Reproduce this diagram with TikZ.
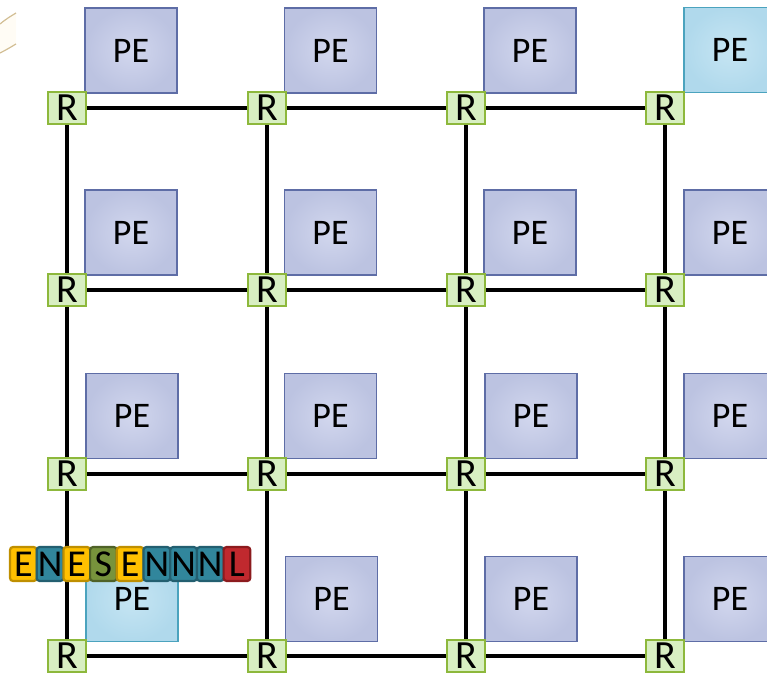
\documentclass[tikz,border=0pt]{standalone}
\usepackage{fontspec}
\setmainfont{Carlito}
\definecolor{pefill}{HTML}{C3C9E3}
\definecolor{peinner}{HTML}{D2D7EE}
\definecolor{peouter}{HTML}{BCC3E1}
\definecolor{peedge}{HTML}{5E6DA6}
\definecolor{bluefill}{HTML}{B9DEEF}
\definecolor{blueinner}{HTML}{C6E5F3}
\definecolor{blueouter}{HTML}{B0D9EC}
\definecolor{blueedge}{HTML}{4BA3BE}
\definecolor{rfill}{HTML}{D8EFC2}
\definecolor{redge}{HTML}{8DB83C}
\definecolor{efill}{HTML}{FFC000}
\definecolor{eedge}{HTML}{BF8F00}
\definecolor{nfill}{HTML}{31869C}
\definecolor{nedge}{HTML}{235F70}
\definecolor{sfill}{HTML}{77933C}
\definecolor{sedge}{HTML}{4F6228}
\definecolor{lfill}{HTML}{C0292E}
\definecolor{ledge}{HTML}{8C1B1E}
\definecolor{curlfill}{HTML}{FFFCF5}
\definecolor{curledge}{HTML}{D2BE94}
\begin{document}
\begin{tikzpicture}[x=1pt,y=-1pt,
  pebox/.style={draw=peedge, inner color=peinner, outer color=peouter, line width=1.5pt, minimum width=92pt, minimum height=85pt, inner sep=0pt, font=\fontsize{36}{40}\selectfont},
  pebluebox/.style={pebox, draw=blueedge, inner color=blueinner, outer color=blueouter},
  router/.style={draw=redge, fill=rfill, line width=2pt, minimum width=38pt, minimum height=32pt, inner sep=0pt, font=\fontsize{40}{40}\selectfont},
  link/.style={line width=4.5pt, black},
  cell/.style={rounded corners=3pt, line width=2.2pt, minimum width=26.7pt, minimum height=34pt, inner sep=0pt, font=\fontsize{38}{38}\selectfont},
  ecell/.style={cell, draw=eedge, fill=efill},
  ncell/.style={cell, draw=nedge, fill=nfill},
  scell/.style={cell, draw=sedge, fill=sfill},
  lcell/.style={cell, draw=ledge, fill=lfill}
]
\useasboundingbox (0,0) rectangle (767,676);
\clip (0,0) rectangle (767,676);
% page curl decoration
\fill[curlfill] (0,24) .. controls (6,19) and (11,16) .. (16,13) -- (16,44) .. controls (11,47) and (6,50) .. (0,53) -- cycle;
\draw[curledge, line width=1.2pt] (0,24) .. controls (6,19) and (11,16) .. (16,13);
\draw[curledge, line width=1.2pt] (0,53) .. controls (6,50) and (11,47) .. (16,44);
% PEs
\node[pebox] (pe11) at (131,50.5) {PE};
\node[pebox] (pe12) at (330.5,50.5) {PE};
\node[pebox] (pe13) at (530,50.5) {PE};
\node[pebluebox] (pe14) at (730,50) {PE};
\node[pebox] (pe21) at (131,232.5) {PE};
\node[pebox] (pe22) at (330.5,232.5) {PE};
\node[pebox] (pe23) at (530,232.5) {PE};
\node[pebox] (pe24) at (730,232.5) {PE};
\node[pebox] (pe31) at (132,416) {PE};
\node[pebox] (pe32) at (330.5,416) {PE};
\node[pebox] (pe33) at (531,416) {PE};
\node[pebox] (pe34) at (730,416) {PE};
\node[pebluebox] (pe41) at (132,599) {PE};
\node[pebox] (pe42) at (331.5,599) {PE};
\node[pebox] (pe43) at (531,599) {PE};
\node[pebox] (pe44) at (730,599) {PE};
% routers
\foreach \i/\y in {1/108,2/290,3/474,4/656}{
  \foreach \j/\x in {1/67,2/267,3/466,4/665}{
    \node[router] (r\i\j) at (\x,\y) {R};
  }
}
% links
\foreach \i in {1,2,3,4}{
  \draw[link] (r\i1) -- (r\i2);
  \draw[link] (r\i2) -- (r\i3);
  \draw[link] (r\i3) -- (r\i4);
}
\foreach \j in {1,2,3,4}{
  \draw[link] (r1\j) -- (r2\j);
  \draw[link] (r2\j) -- (r3\j);
  \draw[link] (r3\j) -- (r4\j);
}
% packet
\node[ecell] (p1) at (23.35,564) {E};
\node[ncell] (p2) at (50.05,564) {N};
\node[ecell] (p3) at (76.75,564) {E};
\node[scell] (p4) at (103.45,564) {S};
\node[ecell] (p5) at (130.15,564) {E};
\node[ncell] (p6) at (156.85,564) {N};
\node[ncell] (p7) at (183.55,564) {N};
\node[ncell] (p8) at (210.25,564) {N};
\node[lcell] (p9) at (236.95,564) {L};
\end{tikzpicture}
\end{document}
